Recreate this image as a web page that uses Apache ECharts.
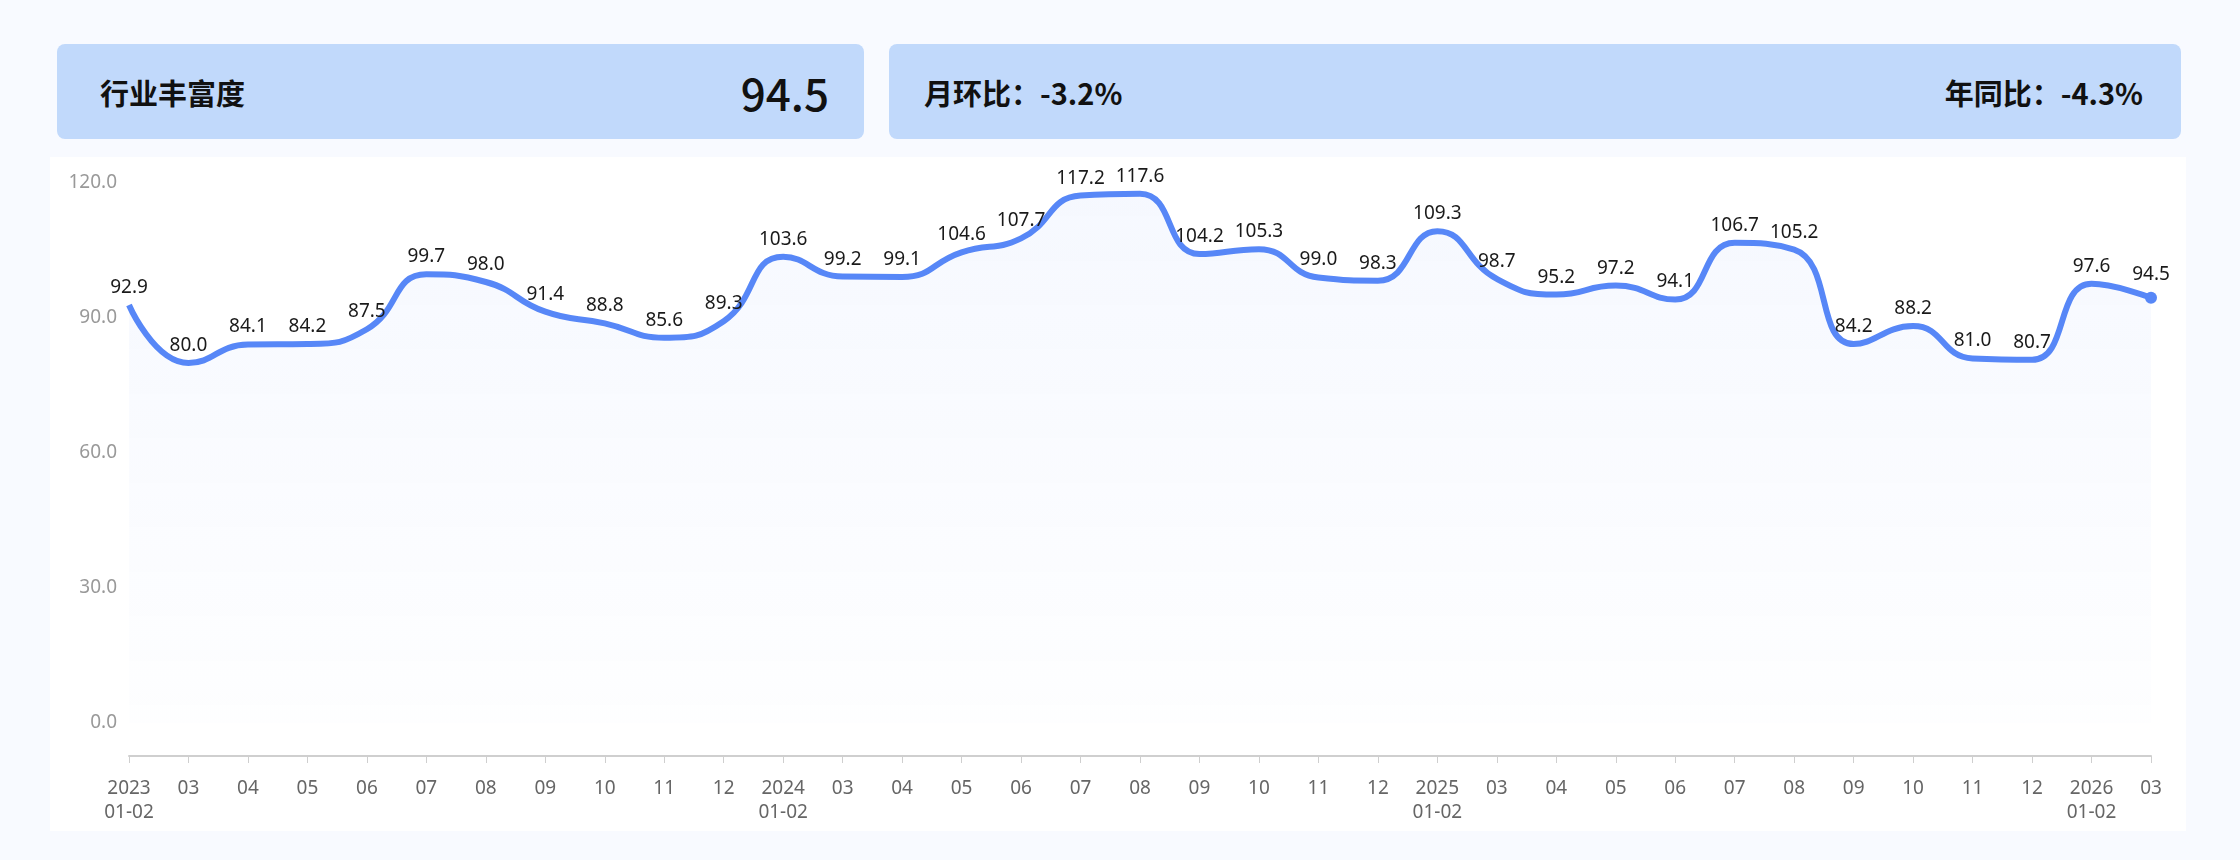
<!DOCTYPE html>
<html lang="zh">
<head>
    <meta charset="UTF-8">
    <title>行业丰富度</title>
    <script src="https://cdn.jsdelivr.net/npm/echarts@6/dist/echarts.min.js"></script>
    <style>
        body {
            margin: 0;
            width: 2240px;
            height: 860px;
            background: #f8faff;
            font-family: "Noto Sans CJK SC", "Noto Sans", sans-serif;
            position: relative;
            overflow: hidden;
        }
        .card {
            position: absolute;
            top: 44px;
            height: 95px;
            background: #c1d9fb;
            border-radius: 8px;
            display: flex;
            align-items: center;
            justify-content: space-between;
            box-sizing: border-box;
            color: #111;
            font-size: 29px;
            font-weight: 600;
        }
        #card-left {
            left: 57px;
            width: 807px;
            padding: 0 35px 0 43px;
        }
        #card-left .big {
            font-size: 44px;
            font-weight: 500;
        }
        #card-right {
            left: 889px;
            width: 1292px;
            padding: 0 38px 0 35px;
        }
        #chart {
            position: absolute;
            left: 50px;
            top: 157px;
            width: 2136px;
            height: 674px;
            background: #fff;
        }
    </style>
</head>
<body>
<div class="card" id="card-left"><span>行业丰富度</span><span class="big">94.5</span></div>
<div class="card" id="card-right"><span>月环比：-3.2%</span><span>年同比：-4.3%</span></div>
<div id="chart"></div>

<script>
    // 月份（每年 01-02 合并）
    var months = [
        '2023\n01-02', '03', '04', '05', '06', '07', '08', '09', '10', '11', '12',
        '2024\n01-02', '03', '04', '05', '06', '07', '08', '09', '10', '11', '12',
        '2025\n01-02', '03', '04', '05', '06', '07', '08', '09', '10', '11', '12',
        '2026\n01-02', '03'
    ];
    // 行业丰富度指数
    var richness = [
        92.9, 80.0, 84.1, 84.2, 87.5, 99.7, 98.0, 91.4, 88.8, 85.6, 89.3,
        103.6, 99.2, 99.1, 104.6, 107.7, 117.2, 117.6, 104.2, 105.3, 99.0, 98.3,
        109.3, 98.7, 95.2, 97.2, 94.1, 106.7, 105.2, 84.2, 88.2, 81.0, 80.7,
        97.6, 94.5
    ];
    var yTicks = [0, 30, 60, 90, 120];

    var lastIdx = richness.length - 1;
    var chart = echarts.init(document.getElementById('chart'));
    var option = {
        animation: false,
        textStyle: {
            fontFamily: '"Noto Sans", "Noto Sans CJK SC", sans-serif'
        },
        grid: {
            left: 79,
            right: 35,
            top: 26,
            bottom: 108
        },
        xAxis: {
            type: 'category',
            boundaryGap: false,
            data: months,
            offset: 33,
            axisLine: {
                onZero: false,
                lineStyle: { color: '#cfcfcf', width: 2 }
            },
            axisTick: {
                length: 7,
                lineStyle: { color: '#cfcfcf' }
            },
            axisLabel: {
                interval: 0,
                color: '#666',
                fontSize: 19,
                lineHeight: 24,
                margin: 21
            }
        },
        yAxis: {
            type: 'value',
            min: yTicks[0],
            max: yTicks[yTicks.length - 1],
            interval: 30,
            axisLine: { show: false },
            axisTick: { show: false },
            splitLine: { show: false },
            axisLabel: {
                color: '#999',
                fontSize: 19,
                margin: 12,
                formatter: function (v) { return v.toFixed(1); }
            }
        },
        series: [
            {
                type: 'line',
                data: richness,
                smooth: 0.5,
                symbol: 'circle',
                symbolSize: function (v, p) {
                    return p.dataIndex === lastIdx ? 12 : 0;
                },
                showSymbol: true,
                lineStyle: { color: '#5787f7', width: 6 },
                itemStyle: { color: '#5787f7' },
                areaStyle: {
                    color: new echarts.graphic.LinearGradient(0, 0, 0, 1, [
                        { offset: 0, color: 'rgba(87,135,247,0.08)' },
                        { offset: 1, color: 'rgba(87,135,247,0.01)' }
                    ])
                },
                label: {
                    show: true,
                    position: 'top',
                    distance: 8,
                    color: '#1a1a1a',
                    fontSize: 19,
                    formatter: function (p) { return p.value.toFixed(1); }
                }
            }
        ]
    };
    chart.setOption(option);
</script>
</body>
</html>
